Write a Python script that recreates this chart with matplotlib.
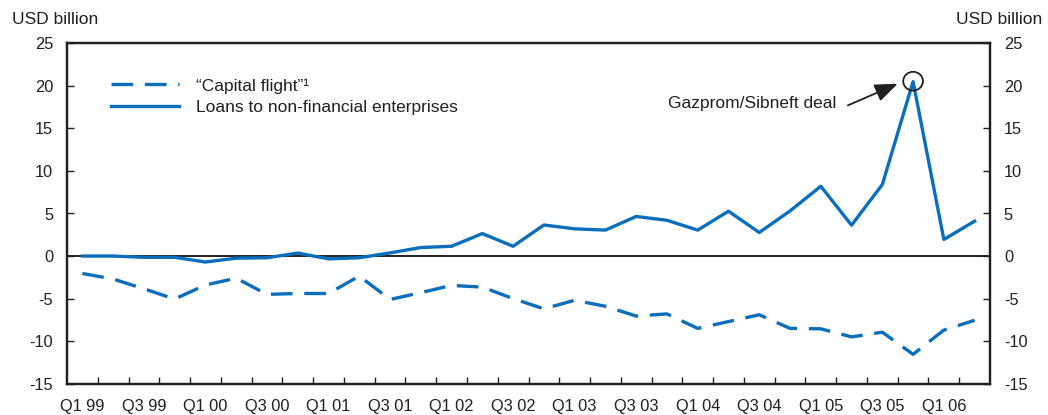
import matplotlib
matplotlib.use("Agg")
import matplotlib.pyplot as plt
from matplotlib.patches import Ellipse
import numpy as np

plt.rcParams['font.family'] = ['Liberation Sans', 'DejaVu Sans']
plt.rcParams['axes.unicode_minus'] = False

quarters = ["Q1 99","Q2 99","Q3 99","Q4 99","Q1 00","Q2 00","Q3 00","Q4 00",
            "Q1 01","Q2 01","Q3 01","Q4 01","Q1 02","Q2 02","Q3 02","Q4 02",
            "Q1 03","Q2 03","Q3 03","Q4 03","Q1 04","Q2 04","Q3 04","Q4 04",
            "Q1 05","Q2 05","Q3 05","Q4 05","Q1 06","Q2 06"]
capital_flight = [-2.05, -2.7, -3.85, -5.05, -3.4, -2.6, -4.5, -4.4,
                  -4.4, -2.35, -5.1, -4.3, -3.45, -3.65, -5.0, -6.2,
                  -5.2, -5.9, -7.05, -6.8, -8.5, -7.7, -6.9, -8.5,
                  -8.55, -9.5, -8.95, -11.55, -8.7, -7.55]
loans = [0.0, 0.0, -0.15, -0.15, -0.7, -0.25, -0.2, 0.35,
         -0.33, -0.2, 0.37, 1.0, 1.15, 2.64, 1.15, 3.65,
         3.2, 3.05, 4.65, 4.2, 3.05, 5.27, 2.77, 5.3,
         8.2, 3.63, 8.4, 20.5, 1.95, 4.1]
label_every = 2
yticks = [25, 20, 15, 10, 5, 0, -5, -10, -15]

blue = '#0a6ebd'
dark = '#231f20'
TICK_FS = 11.8
TEXT_FS = 12.5

W, H = 1048, 415
fig = plt.figure(figsize=(W/100, H/100), dpi=100)
L, R, T, B = 67, 990, 43.3, 383.7
ax = fig.add_axes([L/W, 1-B/H, (R-L)/W, (B-T)/H])

x = np.arange(len(quarters))
ax.plot(x, capital_flight, color=blue, lw=2.4, dashes=(6.5, 3.5), label="“Capital flight”¹")
ax.plot(x, loans, color=blue, lw=2.4, label="Loans to non-financial enterprises")
ax.axhline(0, color=dark, lw=1.4, zorder=1)

ax.set_xlim(-0.5, len(quarters)-0.5)
ax.set_ylim(-15, 25)
ax.set_yticks(yticks)
ax.set_xticks(np.arange(0.5, len(quarters)-1, 1))
ax.set_xticklabels([])
ax.set_xticks(x[::label_every], minor=True)
ax.set_xticklabels(quarters[::label_every], minor=True)
ax.tick_params(axis='x', which='major', direction='in', length=5, width=1, color=dark)
ax.tick_params(axis='x', which='minor', length=0, pad=11, labelsize=TICK_FS, labelcolor=dark)
ax.tick_params(axis='y', direction='in', length=5, width=1, color=dark, pad=10,
               labelsize=TICK_FS, labelcolor=dark)
for s in ax.spines.values():
    s.set_linewidth(1.6)
    s.set_color(dark)

ax2 = ax.twinx()
ax2.set_ylim(-15, 25)
ax2.set_yticks(yticks)
ax2.tick_params(axis='y', direction='in', length=5, width=1, color=dark, pad=10,
                labelsize=TICK_FS, labelcolor=dark)
for s in ax2.spines.values():
    s.set_linewidth(1.6)
    s.set_color(dark)

fig.text(12/W, 1-20/H, "USD billion", fontsize=TEXT_FS, color=dark, va='center', ha='left')
fig.text(1042/W, 1-20/H, "USD billion", fontsize=TEXT_FS, color=dark, va='center', ha='right')

leg = ax.legend(loc='upper left', bbox_to_anchor=(111/W, 1-78/H),
                bbox_transform=fig.transFigure, frameon=False, fontsize=TEXT_FS,
                handlelength=3.9, handletextpad=1.0, labelspacing=0.35,
                borderpad=0, borderaxespad=0)
for t in leg.get_texts():
    t.set_color(dark)

# annotation at the peak
peak_i = int(np.argmax(loans))
ax.add_patch(Ellipse((peak_i, loans[peak_i] + 0.05), 0.64, 2.2, fill=False,
                     edgecolor=dark, lw=1.3, zorder=5))
ax.text(peak_i - 2.5, loans[peak_i] - 2.6, "Gazprom/Sibneft deal", fontsize=TEXT_FS,
        color=dark, ha='right', va='center')
ax.annotate("", xy=(peak_i - 0.5, loans[peak_i] - 0.25),
            xytext=(peak_i - 2.12, loans[peak_i] - 2.8),
            arrowprops=dict(arrowstyle='-|>,head_length=1.4,head_width=0.55',
                            color=dark, lw=1.3, shrinkA=0, shrinkB=0))

fig.savefig("out.png", dpi=100)
